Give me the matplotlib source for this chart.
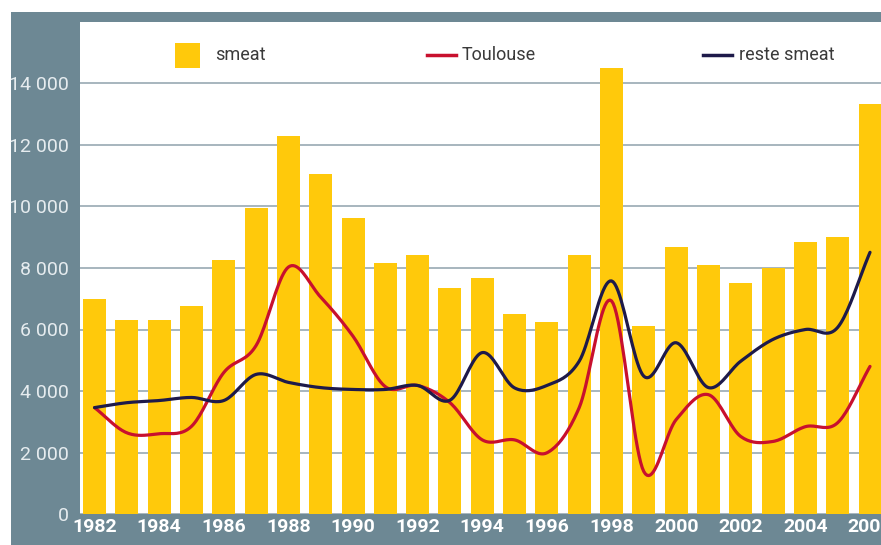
import matplotlib.pyplot as plt
import numpy as np
from matplotlib.patches import Rectangle
from matplotlib.lines import Line2D

# data
years = list(range(1982, 2007))
smeat = [7000, 6300, 6300, 6750, 8250, 9950, 12300, 11060, 9620, 8160, 8420, 7340, 7670,
         6490, 6230, 8420, 14520, 6130, 8680, 8090, 7500, 7990, 8840, 9000, 13340]
toulouse = [3460, 2640, 2610, 2850, 4600, 5480, 8030, 7050, 5780, 4140, 4180, 3620, 2410,
            2410, 1990, 3460, 6930, 1380, 3070, 3880, 2520, 2360, 2840, 2970, 4800]
reste = [3460, 3620, 3690, 3790, 3690, 4540, 4280, 4110, 4050, 4050, 4180, 3700, 5250,
         4100, 4180, 4970, 7580, 4480, 5570, 4110, 4970, 5680, 6000, 6070, 8510]
yticks = [0, 2000, 4000, 6000, 8000, 10000, 12000, 14000]
xticks = list(range(1982, 2007, 2))

slate = '#6d8894'
yellow = '#ffc90b'
red = '#c8102e'
navy = '#1e1a4a'
grid_col = '#a7b6be'

plt.rcParams['font.family'] = 'Roboto'


def smooth(x, y, n=20):
    # catmull-rom style curve through the points (like the smoothed lines of the original)
    x = np.asarray(x, float)
    y = np.asarray(y, float)
    px = np.concatenate([[2 * x[0] - x[1]], x, [2 * x[-1] - x[-2]]])
    py = np.concatenate([[2 * y[0] - y[1]], y, [2 * y[-1] - y[-2]]])
    t = np.linspace(0, 1, n, endpoint=False)
    xs, ys = [], []
    for i in range(1, len(px) - 2):
        for p, out in ((px, xs), (py, ys)):
            p0, p1, p2, p3 = p[i - 1], p[i], p[i + 1], p[i + 2]
            out.extend(0.5 * ((2 * p1) + (-p0 + p2) * t + (2 * p0 - 5 * p1 + 4 * p2 - p3) * t ** 2
                              + (-p0 + 3 * p1 - 3 * p2 + p3) * t ** 3))
    xs.append(x[-1])
    ys.append(y[-1])
    return xs, ys


W, H = 881, 545
fig = plt.figure(figsize=(W / 100, H / 100), dpi=100)
fig.patch.set_facecolor('white')

# slate frame behind the plot
bg = Rectangle((11 / W, 0), 1 - 11 / W, (H - 12) / H, transform=fig.transFigure,
               facecolor=slate, edgecolor='none', zorder=-5)
fig.patches.append(bg)

ax = fig.add_axes([80 / W, (H - 514) / H, 1 - 80 / W, (514 - 22) / H])
ax.set_facecolor('white')

ax.bar(years, smeat, width=0.71, color=yellow, zorder=2)
tx, ty = smooth(years, toulouse)
ax.plot(tx, ty, color=red, lw=2.3, zorder=3, solid_capstyle='round')
rx, ry = smooth(years, reste)
ax.plot(rx, ry, color=navy, lw=2.3, zorder=4, solid_capstyle='round')

ax.set_xlim(1981.55, 2006.34)
ax.set_ylim(0, 16000)
ax.set_yticks(yticks)
ax.set_yticklabels([f'{v:,}'.replace(',', ' ') for v in yticks])
ax.set_xticks(xticks)
ax.set_xticklabels([str(v) for v in xticks])
ax.tick_params(axis='y', length=0, pad=8, labelsize=14, labelcolor='#e6ecef')
ax.tick_params(axis='x', length=0, pad=3, labelsize=14, labelcolor='white')
for lab in ax.get_xticklabels():
    lab.set_fontweight('bold')
ax.yaxis.grid(True, color=grid_col, lw=1.4, zorder=1)
ax.set_axisbelow(True)
for s in ax.spines.values():
    s.set_visible(False)


# legend drawn in figure pixels
def fx(px):
    return px / W


def fy(py):
    return (H - py) / H


fig.patches.append(Rectangle((fx(175), fy(68)), 25 / W, 25 / H, transform=fig.transFigure,
                             facecolor=yellow, edgecolor='none', zorder=5))
fig.text(fx(215), fy(55), 'smeat', fontsize=13, color='#3a3a3a', va='center', ha='left')
fig.add_artist(Line2D([fx(427), fx(456)], [fy(55), fy(55)], transform=fig.transFigure,
                      color=red, lw=2.5))
fig.text(fx(462), fy(55), 'Toulouse', fontsize=13, color='#3a3a3a', va='center', ha='left')
fig.add_artist(Line2D([fx(703), fx(732)], [fy(55), fy(55)], transform=fig.transFigure,
                      color=navy, lw=2.5))
fig.text(fx(739), fy(55), 'reste smeat', fontsize=13, color='#3a3a3a', va='center', ha='left')

fig.savefig('out.png', dpi=100, facecolor=fig.get_facecolor())
